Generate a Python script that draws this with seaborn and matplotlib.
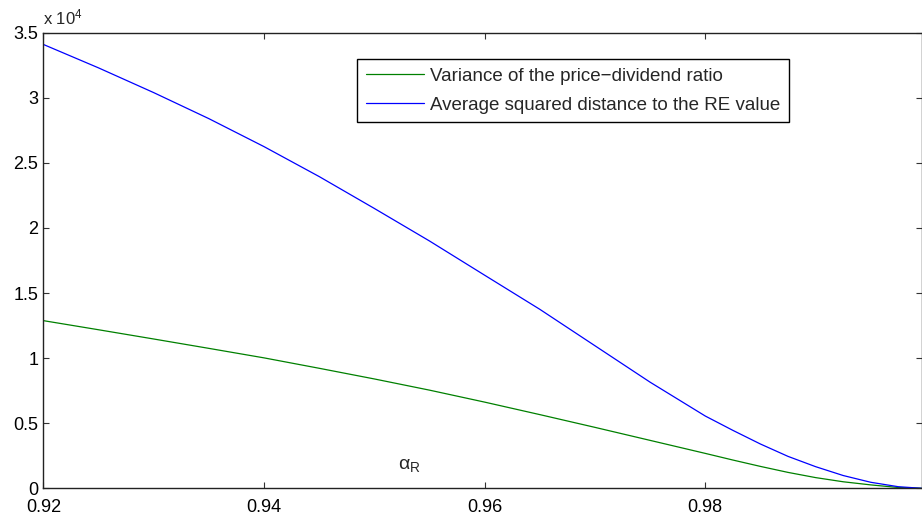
import numpy as np
import pandas as pd
import matplotlib
matplotlib.use("Agg")
import matplotlib.pyplot as plt
import matplotlib.ticker as mticker
import seaborn as sns

# values
alpha_r = [0.92, 0.925, 0.93, 0.935, 0.94, 0.945, 0.95, 0.955, 0.96,
           0.965, 0.97, 0.975, 0.98, 0.9825, 0.985, 0.9875, 0.99,
           0.9925, 0.995, 0.9975, 0.9996]
variance_pd = [12880, 12180, 11470, 10750, 10020, 9220, 8400, 7540, 6620,
               5660, 4680, 3680, 2680, 2170, 1680, 1220, 820,
               500, 260, 60, 0]
avg_sq_dist = [34100, 32300, 30400, 28400, 26250, 23950, 21500, 19000, 16370,
               13750, 10950, 8150, 5550, 4450, 3400, 2450, 1660,
               980, 460, 120, 0]

labels = ["Variance of the price\u2212dividend ratio",
          "Average squared distance to the RE value"]

df = pd.DataFrame({
    "alpha": alpha_r * 2,
    "value": variance_pd + avg_sq_dist,
    "series": [labels[0]] * len(alpha_r) + [labels[1]] * len(alpha_r),
})

sns.set_style("white")
plt.rcParams["font.family"] = ["Liberation Sans", "DejaVu Sans"]
plt.rcParams["mathtext.fontset"] = "custom"
plt.rcParams["mathtext.rm"] = "Liberation Sans"
plt.rcParams["mathtext.it"] = "Liberation Sans:italic"

fig = plt.figure(figsize=(9.22, 5.21), dpi=100)
ax = fig.add_axes([0.047, 0.0628, 0.9525, 0.8744])

sns.lineplot(data=df, x="alpha", y="value", hue="series",
             palette=[(0, 0.5, 0), (0, 0, 1)], linewidth=0.9, ax=ax,
             legend=True)

ax.set_xlim(0.92, 0.9996)
ax.set_ylim(0, 35000)
ax.set_xticks([0.92, 0.94, 0.96, 0.98])
ax.set_yticks(np.arange(0, 35001, 5000))
ax.xaxis.set_major_formatter(mticker.FuncFormatter(lambda v, p: f"{v:g}"))
ax.yaxis.set_major_formatter(mticker.FuncFormatter(lambda v, p: f"{v / 1e4:g}"))
ax.tick_params(direction="in", length=4.5, width=0.8, colors="#333333",
               labelcolor="black", labelsize=13, top=True, right=True,
               bottom=True, left=True)
ax.tick_params(axis="x", pad=7.5)
ax.tick_params(axis="y", pad=3.5)
ax.set_xlabel("")
ax.set_ylabel("")
for s in ax.spines.values():
    s.set_color("#222222")
    s.set_linewidth(1.0)

ax.text(0.0, 1.012, r"x 10$^{4}$", transform=ax.transAxes, fontsize=12,
        ha="left", va="bottom")
ax.text(0.9532, 1750, "\u03b1$_{\\mathrm{R}}$", fontsize=14, ha="center", va="center")

leg = ax.legend(loc="upper left", bbox_to_anchor=(0.3575, 0.9416),
                fontsize=13.5, frameon=True, fancybox=False, framealpha=1,
                edgecolor="black", handlelength=3.1, handletextpad=0.35,
                borderpad=0.45, labelspacing=0.62, borderaxespad=0)
leg.get_frame().set_linewidth(1.0)

fig.savefig("out.png", dpi=100)
